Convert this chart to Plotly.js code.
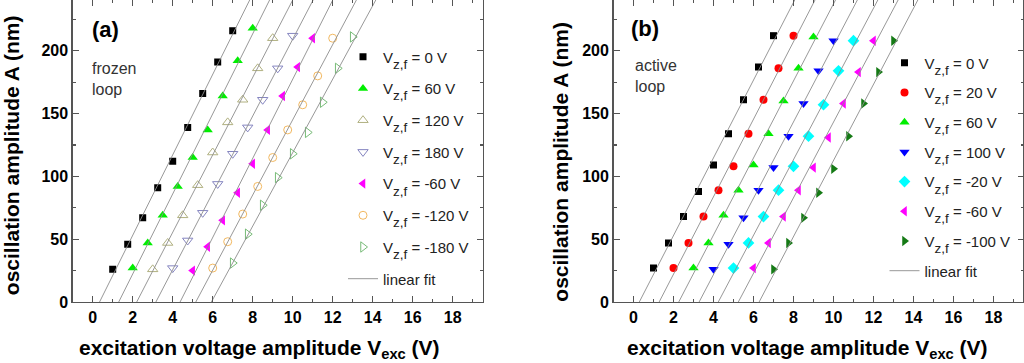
<!DOCTYPE html>
<html>
<head>
<meta charset="utf-8">
<script src="https://cdn.plot.ly/plotly-3.0.1.min.js"></script>
<style>html,body{margin:0;padding:0;background:#fff;}#chart{width:1024px;height:363px;}</style>
</head>
<body>
<div id="chart"></div>
<script>
// ---------- Panel (a): frozen loop ----------
var aLabels = ["0 V", "60 V", "120 V", "180 V", "-60 V", "-120 V", "-180 V"];
var a0x    = [1, 1.75, 2.5, 3.25, 4, 4.75, 5.5, 6.25, 7];
var a0y    = [26, 46, 67, 91, 112, 139, 166, 191, 216];
var a60x   = [2, 2.75, 3.5, 4.25, 5, 5.75, 6.5, 7.25, 8];
var a60y   = [27, 47, 69, 92, 115, 137, 164, 192, 218];
var a120x  = [3, 3.75, 4.5, 5.25, 6, 6.75, 7.5, 8.25, 9];
var a120y  = [26, 47, 69, 93, 119, 143, 161, 186, 210];
var a180x  = [4, 4.75, 5.5, 6.25, 7, 7.75, 8.5, 9.25, 10];
var a180y  = [27, 49, 71, 94, 118, 139, 161, 186, 212];
var am60x  = [5, 5.75, 6.5, 7.25, 8, 8.75, 9.5, 10.25, 11];
var am60y  = [25, 44, 65, 87, 110, 137, 164, 187, 210];
var am120x = [6, 6.75, 7.5, 8.25, 9, 9.75, 10.5, 11.25, 12];
var am120y = [27, 48, 70, 92, 115, 137, 157, 180, 210];
var am180x = [7, 7.75, 8.5, 9.25, 10, 10.75, 11.5, 12.25, 13];
var am180y = [31, 54, 77, 99, 118, 135, 159, 186, 211];

// ---------- Panel (b): active loop ----------
var bLabels = ["0 V", "20 V", "60 V", "100 V", "-20 V", "-60 V", "-100 V"];
var b0x    = [1, 1.75, 2.5, 3.25, 4, 4.75, 5.5, 6.25, 7];
var b0y    = [27, 47, 68, 88, 109, 134, 161, 187, 212];
var b20x   = [2, 2.75, 3.5, 4.25, 5, 5.75, 6.5, 7.25, 8];
var b20y   = [27, 47, 68, 89, 108, 134, 161, 186, 212];
var b60x   = [3, 3.75, 4.5, 5.25, 6, 6.75, 7.5, 8.25, 9];
var b60y   = [27, 47, 69, 89, 109, 134, 160, 186, 211];
var b100x  = [4, 4.75, 5.5, 6.25, 7, 7.75, 8.5, 9.25, 10];
var b100y  = [26, 46, 67, 89, 107, 132, 158, 184, 208];
var bm20x  = [5, 5.75, 6.5, 7.25, 8, 8.75, 9.5, 10.25, 11];
var bm20y  = [27, 47, 68, 89, 108, 132, 157, 184, 208];
var bm60x  = [6, 6.75, 7.5, 8.25, 9, 9.75, 10.5, 11.25, 12];
var bm60y  = [27, 47, 68, 89, 107, 131, 158, 183, 208];
var bm100x = [7, 7.75, 8.5, 9.25, 10, 10.75, 11.5, 12.25, 13];
var bm100y = [26, 47, 67, 87, 106, 132, 158, 183, 208];

var fitLabel = "linear fit";
var xTickVals = [0, 2, 4, 6, 8, 10, 12, 14, 16, 18];
var yTickVals = [0, 50, 100, 150, 200];

// ---------- styling ----------
var FONT = "Liberation Sans, Arial, Helvetica, sans-serif";
var W = 1024, H = 363, PLOT_BOTTOM = 301.7;
var yRange = [0, 240.4], xRange = [-1, 19.5];

function vzLabel(v) {
  return "V<sub><span style=\"font-size:13.5px;baseline-shift:-3px\">z,f</span></sub> = " + v;
}

var aStyles = [
  {symbol: "square", size: 7, color: "#000000", lw: 0},
  {symbol: "triangle-up", size: 9, color: "#00ee00", lw: 0},
  {symbol: "triangle-up-open", size: 9, color: "#b0b080", lw: 1},
  {symbol: "triangle-down-open", size: 9, color: "#8585c0", lw: 1},
  {symbol: "triangle-left", size: 9, color: "#ff00ff", lw: 0},
  {symbol: "circle-open", size: 8, color: "#f2b860", lw: 1},
  {symbol: "triangle-right-open", size: 9, color: "#77bb77", lw: 1}
];
var bStyles = [
  {symbol: "square", size: 7, color: "#000000", lw: 0},
  {symbol: "circle", size: 8, color: "#ff0000", lw: 0},
  {symbol: "triangle-up", size: 9, color: "#00ee00", lw: 0},
  {symbol: "triangle-down", size: 9, color: "#0000ff", lw: 0},
  {symbol: "diamond", size: 9, color: "#00ffff", lw: 0},
  {symbol: "triangle-left", size: 9, color: "#ff00ff", lw: 0},
  {symbol: "triangle-right", size: 9, color: "#157a15", lw: 0}
];

var aSeries = [[a0x, a0y], [a60x, a60y], [a120x, a120y], [a180x, a180y], [am60x, am60y], [am120x, am120y], [am180x, am180y]];
var bSeries = [[b0x, b0y], [b20x, b20y], [b60x, b60y], [b100x, b100y], [bm20x, bm20y], [bm60x, bm60y], [bm100x, bm100y]];

function linfit(xs, ys) {
  var n = xs.length, mx = 0, my = 0;
  for (var i = 0; i < n; i++) { mx += xs[i]; my += ys[i]; }
  mx /= n; my /= n;
  var sxy = 0, sxx = 0;
  for (var j = 0; j < n; j++) { sxy += (xs[j] - mx) * (ys[j] - my); sxx += (xs[j] - mx) * (xs[j] - mx); }
  var m = sxy / sxx;
  return {m: m, b: my - m * mx};
}

var traces = [];
function addPanel(series, labels, styles, xa, ya, legendId, tag) {
  series.forEach(function (s, k) {
    var st = styles[k];
    traces.push({
      type: "scatter", mode: "markers", x: s[0], y: s[1], name: vzLabel(labels[k]),
      xaxis: xa, yaxis: ya, legend: legendId, legendgroup: tag + k,
      marker: {symbol: st.symbol, size: st.size, color: st.color,
               line: {width: st.lw, color: st.color}},
      hoverinfo: "x+y"
    });
  });
  series.forEach(function (s, k) {
    var f = linfit(s[0], s[1]);
    var yEnds = [yRange[0], yRange[1] + 10];
    traces.push({
      type: "scatter", mode: "lines", name: fitLabel,
      x: yEnds.map(function (yy) { return (yy - f.b) / f.m; }), y: yEnds,
      xaxis: xa, yaxis: ya, legend: legendId, legendgroup: tag + "fit",
      showlegend: k === 0,
      line: {color: "#8c8c8c", width: 0.9},
      hoverinfo: "skip"
    });
  });
}
addPanel(aSeries, aLabels, aStyles, "x", "y", "legend", "a");
addPanel(bSeries, bLabels, bStyles, "x2", "y2", "legend2", "b");

function px(v) { return v / W; }
function py(v) { return (PLOT_BOTTOM - v) / PLOT_BOTTOM; }

var axisCommon = {
  showgrid: false, zeroline: false, showline: true, linecolor: "#555", linewidth: 1.4,
  mirror: "ticks", ticks: "inside", ticklen: 6, tickwidth: 1.2, tickcolor: "#555",
  tickfont: {family: FONT, size: 16, color: "#000", weight: "bold"}
};
function xAxis(domain, anchor) {
  return Object.assign({}, axisCommon, {
    domain: domain, anchor: anchor, range: xRange, tickmode: "array", tickvals: xTickVals,
    minor: {dtick: 1, tick0: 0, ticks: "inside", ticklen: 3, tickwidth: 1.2, tickcolor: "#555"}
  });
}
function yAxis(anchor) {
  return Object.assign({}, axisCommon, {
    domain: [0, 1], anchor: anchor, range: yRange, tickmode: "array", tickvals: yTickVals,
    minor: {dtick: 25, tick0: 0, ticks: "inside", ticklen: 3, tickwidth: 1.2, tickcolor: "#555"}
  });
}

var titleFont = {family: FONT, size: 21, color: "#000", weight: "bold"};
var noteFont = {family: FONT, size: 16, color: "#333"};
function ann(text, x, y, font, extra) {
  return Object.assign({text: text, xref: "paper", yref: "paper", x: px(x), y: py(y),
    showarrow: false, font: font, xanchor: "center", yanchor: "middle"}, extra || {});
}

var legendCommon = {
  font: {family: FONT, size: 15, color: "#222"}, bgcolor: "rgba(0,0,0,0)", borderwidth: 0,
  xanchor: "left", yanchor: "top", itemclick: false, itemdoubleclick: false
};

var layout = {
  width: W, height: H, margin: {l: 0, r: 0, t: 0, b: H - PLOT_BOTTOM, pad: 0},
  paper_bgcolor: "#fff", plot_bgcolor: "#fff",
  xaxis: xAxis([72.7 / W, 482.7 / W], "y"),
  yaxis: yAxis("x"),
  xaxis2: xAxis([613.5 / W, 1023.5 / W], "y2"),
  yaxis2: yAxis("x2"),
  legend: Object.assign({}, legendCommon, {x: px(343), y: py(40.5), tracegroupgap: 9.2}),
  legend2: Object.assign({}, legendCommon, {x: px(884.5), y: py(46.5), tracegroupgap: 7.2}),
  annotations: [
    ann("(a)", 105, 29.5, {family: FONT, size: 22, color: "#000", weight: "bold"}),
    ann("(b)", 645, 28.3, {family: FONT, size: 22, color: "#000", weight: "bold"}),
    ann("frozen<br>loop", 90, 58, noteFont, {xanchor: "left", yanchor: "top", align: "left"}),
    ann("active<br>loop", 632.5, 55, noteFont, {xanchor: "left", yanchor: "top", align: "left"}),
    ann("excitation voltage amplitude V<sub>exc</sub> (V)", 259.7, 349, titleFont),
    ann("excitation voltage amplitude V<sub>exc</sub> (V)", 807.5, 349, titleFont),
    ann("oscillation amplitude A (nm)", 11.5, 155.5, titleFont, {textangle: -90}),
    ann("oscillation amplitude A (nm)", 561, 161.5, titleFont, {textangle: -90})
  ],
  showlegend: true
};

Plotly.newPlot("chart", traces, layout, {staticPlot: true, displayModeBar: false});
</script>
</body>
</html>
